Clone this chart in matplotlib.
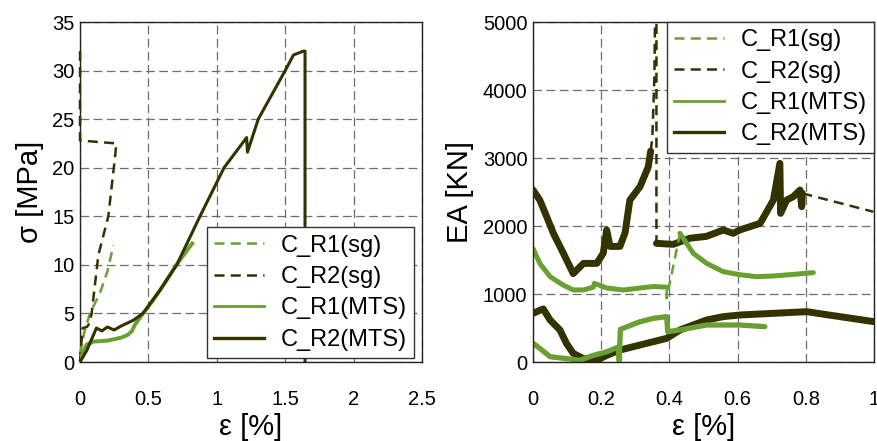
import numpy as np
import matplotlib
matplotlib.use("Agg")
import matplotlib.pyplot as plt
from matplotlib.lines import Line2D

plt.rcParams['font.family'] = ['Liberation Sans', 'DejaVu Sans']

LIGHT = '#6a9f32'
DARK = '#333300'

# ---- left panel: stress vs strain ----
L_r1_sg_x = [0.0, 0.03, 0.073, 0.146, 0.20, 0.244]
L_r1_sg_y = [0.8, 3.0, 5.0, 7.1, 9.3, 12.0]

L_r2_sg_x = [0.0, 0.01, 0.02, 0.05, 0.07, 0.085, 0.134, 0.207, 0.256, 0.266, 0.0, 0.0]
L_r2_sg_y = [0.0, 2.0, 3.5, 3.6, 4.0, 5.0, 11.0, 15.0, 21.1, 22.5, 22.8, 32.0]

L_r1_mts_x = [0.0, 0.02, 0.05, 0.10, 0.20, 0.30, 0.35, 0.38, 0.40, 0.45, 0.50, 0.60, 0.70, 0.82]
L_r1_mts_y = [0.0, 1.0, 1.8, 2.1, 2.2, 2.5, 2.8, 3.2, 3.8, 4.8, 5.7, 7.7, 9.9, 12.2]

L_r2_mts_x = [0.0, 0.05, 0.12, 0.16, 0.20, 0.25, 0.30, 0.39, 0.46, 0.58, 0.707, 0.877,
              1.053, 1.218, 1.224, 1.303, 1.50, 1.56, 1.632, 1.645, 1.645]
L_r2_mts_y = [0.0, 1.2, 3.5, 3.2, 3.6, 3.3, 3.7, 4.3, 5.0, 7.3, 10.0, 15.0,
              20.0, 23.1, 21.6, 25.0, 30.0, 31.6, 32.0, 32.0, 0.0]

# ---- right panel: EA vs strain ----
R_r1_sg_x = [0.0, 0.02, 0.05, 0.089, 0.118, 0.148, 0.177, 0.18, 0.216, 0.265, 0.314, 0.353,
             0.392, 0.392, 0.431, 0.47, 0.509, 0.558, 0.606, 0.655, 0.705, 0.753, 0.822]
R_r1_sg_y = [1670, 1450, 1255, 1130, 1060, 1060, 1100, 1157, 1088, 1059, 1088, 1110,
             1100, 937, 1892, 1598, 1451, 1328, 1284, 1255, 1265, 1284, 1314]

R_r2_sg_x = [0.0, 0.02, 0.035, 0.06, 0.089, 0.118, 0.148, 0.187, 0.206, 0.216, 0.226, 0.255,
             0.27, 0.284, 0.314, 0.338, 0.345, 0.350, 0.356, 0.358, 0.362, 0.362, 0.411,
             0.46, 0.509, 0.558, 0.587, 0.606, 0.666, 0.705, 0.724, 0.726, 0.744, 0.763,
             0.783, 0.788, 0.79, 0.998]
R_r2_sg_y = [2530, 2380, 2200, 1890, 1600, 1300, 1450, 1450, 1600, 1940, 1700, 1700,
             1900, 2380, 2580, 2870, 3100, 3300, 4200, 5100, 5100, 1745, 1730,
             1820, 1848, 1941, 1892, 1941, 2039, 2382, 2921, 2186, 2382, 2431,
             2529, 2284, 2480, 2210]

R_r1_mts_x = [0.0, 0.02, 0.05, 0.098, 0.137, 0.177, 0.216, 0.25, 0.253, 0.256, 0.314, 0.353,
              0.392, 0.395, 0.431, 0.509, 0.606, 0.68]
R_r1_mts_y = [275, 201, 78, 49, 25, 98, 150, 220, 10, 480, 593, 642,
              667, 446, 471, 544, 544, 520]

R_r2_mts_x = [0.0, 0.03, 0.05, 0.079, 0.098, 0.118, 0.148, 0.187, 0.216, 0.255, 0.294,
              0.353, 0.392, 0.431, 0.47, 0.509, 0.558, 0.606, 0.705, 0.803, 0.9, 1.0]
R_r2_mts_y = [716, 780, 618, 471, 275, 127, 49, 25, 98, 176, 225,
              299, 348, 471, 544, 618, 667, 691, 716, 740, 667, 593]

# noisy stretches of the sg records (index ranges) look solid in the original
R_r1_sg_noisy = [(0, 13), (14, 23)]
R_r1_sg_jump = (11, 15)
R_r2_sg_noisy = [(0, 17), (21, 37)]
R_r2_sg_jump = [(16, 22), (36, 38)]

labels = ['C_R1(sg)', 'C_R2(sg)', 'C_R1(MTS)', 'C_R2(MTS)']

fig = plt.figure(figsize=(8.78, 4.41), dpi=100)
ax1 = fig.add_axes([80 / 878, 79 / 441, 342 / 878, 340 / 441])
ax2 = fig.add_axes([533 / 878, 79 / 441, 341 / 878, 340 / 441])

grid_kw = dict(color='#6e6e6e', linewidth=0.9, dashes=(7, 3.5))
dash = (4, 2.5)

# left
ax1.plot(L_r1_sg_x, L_r1_sg_y, color=LIGHT, lw=1.8, dashes=dash, zorder=3, clip_on=False)
ax1.plot(L_r2_sg_x, L_r2_sg_y, color=DARK, lw=1.8, dashes=dash, zorder=3, clip_on=False)
ax1.plot(L_r1_mts_x, L_r1_mts_y, color=LIGHT, lw=2.8, zorder=3)
ax1.plot(L_r2_mts_x, L_r2_mts_y, color=DARK, lw=2.2, zorder=3)
ax1.set_xlim(0, 2.5)
ax1.set_ylim(0, 35)
ax1.set_xticks([0, 0.5, 1, 1.5, 2, 2.5])
ax1.set_xticklabels(['0', '0.5', '1', '1.5', '2', '2.5'])
ax1.set_yticks(range(0, 36, 5))
ax1.set_xlabel('ε [%]', fontsize=21, labelpad=3)
ax1.set_ylabel('σ [MPa]', fontsize=21, labelpad=6)

# right
ax2.plot(R_r2_mts_x, R_r2_mts_y, color=DARK, lw=5.0, solid_capstyle='round')
ax2.plot(R_r1_mts_x, R_r1_mts_y, color=LIGHT, lw=3.8, solid_capstyle='round')
for a, b in R_r2_sg_noisy:
    ax2.plot(R_r2_sg_x[a:b], R_r2_sg_y[a:b], color=DARK, lw=5.0, solid_capstyle='round')
for a, b in R_r2_sg_jump:
    ax2.plot(R_r2_sg_x[a:b], R_r2_sg_y[a:b], color=DARK, lw=1.8, dashes=dash)
for a, b in R_r1_sg_noisy:
    ax2.plot(R_r1_sg_x[a:b], R_r1_sg_y[a:b], color=LIGHT, lw=3.6, solid_capstyle='round')
a, b = R_r1_sg_jump
ax2.plot(R_r1_sg_x[a:b], R_r1_sg_y[a:b], color=LIGHT, lw=1.8, dashes=dash)
ax2.set_xlim(0, 1)
ax2.set_ylim(0, 5000)
ax2.set_xticks([0, 0.2, 0.4, 0.6, 0.8, 1])
ax2.set_xticklabels(['0', '0.2', '0.4', '0.6', '0.8', '1'])
ax2.set_yticks(range(0, 5001, 1000))
ax2.set_xlabel('ε [%]', fontsize=21, labelpad=3)
ax2.set_ylabel('EA [KN]', fontsize=21, labelpad=6)

handles = [Line2D([], [], color=LIGHT, lw=1.8, dashes=dash),
           Line2D([], [], color=DARK, lw=1.8, dashes=dash),
           Line2D([], [], color=LIGHT, lw=2.0),
           Line2D([], [], color=DARK, lw=2.4)]

for ax in (ax1, ax2):
    ax.grid(True, **grid_kw)
    ax.set_axisbelow(True)
    ax.tick_params(labelsize=14.5, direction='in', length=0)
    ax.tick_params(axis='x', pad=20)
    ax.tick_params(axis='y', pad=4)
    for s in ax.spines.values():
        s.set_color('#222222')
        s.set_linewidth(1.0)

leg_kw = dict(fontsize=17, frameon=True, fancybox=False, edgecolor='#333333',
              framealpha=1, handlelength=2.1, handletextpad=0.72, labelspacing=0.4,
              borderaxespad=0.0, borderpad=0.3)
leg1 = ax1.legend(handles, labels, loc='lower right',
                  bbox_to_anchor=(0.977, 0.012), **leg_kw)
leg1.get_frame().set_linewidth(1.0)
leg2 = ax2.legend(handles, labels, loc='upper right', **leg_kw)
leg2.get_frame().set_linewidth(1.0)

fig.savefig('out.png', dpi=100)
